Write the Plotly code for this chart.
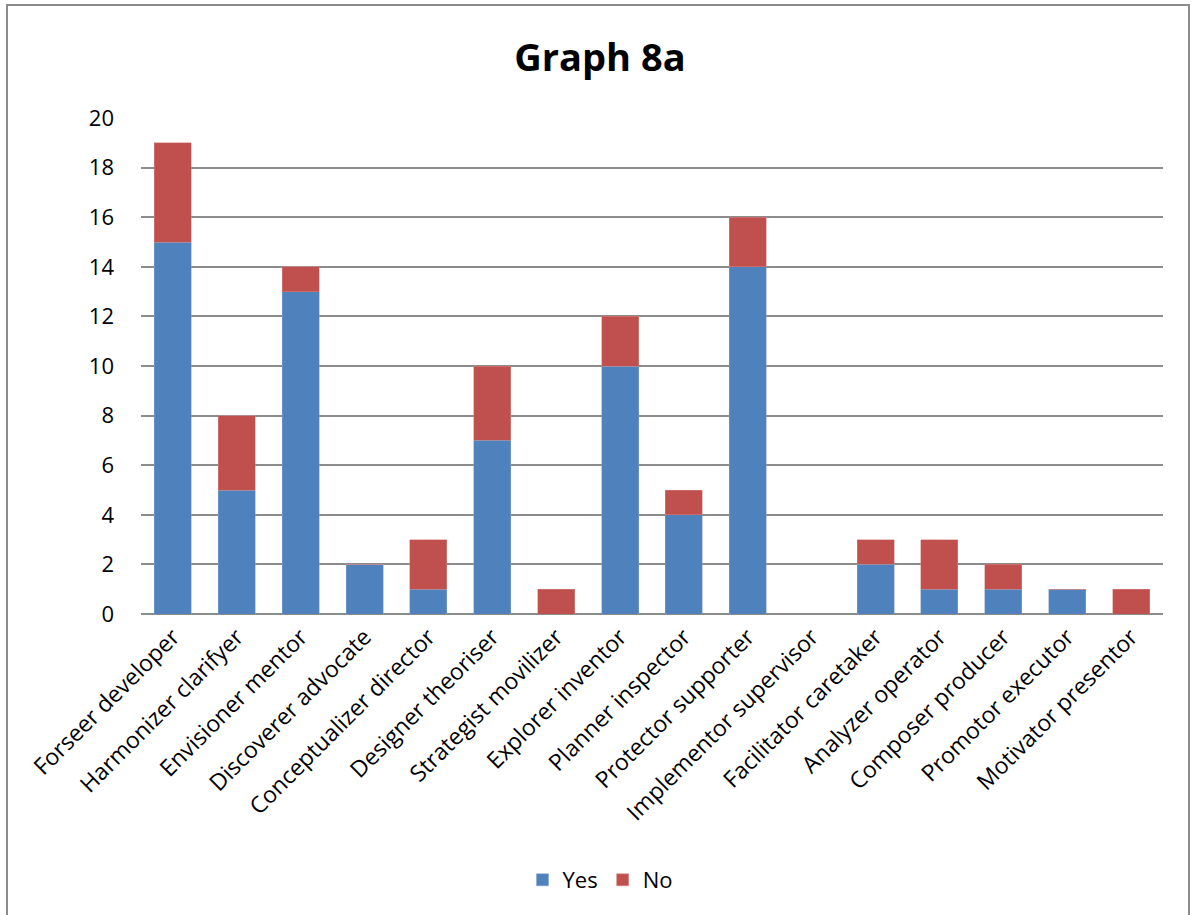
import plotly.graph_objects as go

categories = [
    "Forseer developer", "Harmonizer clarifyer", "Envisioner mentor",
    "Discoverer advocate", "Conceptualizer director", "Designer theoriser",
    "Strategist movilizer", "Explorer inventor", "Planner inspector",
    "Protector supporter", "Implementor supervisor", "Facilitator caretaker",
    "Analyzer operator", "Composer producer", "Promotor executor",
    "Motivator presentor",
]
yes_values = [15, 5, 13, 2, 1, 7, 0, 10, 4, 14, 0, 2, 1, 1, 1, 0]
no_values = [4, 3, 1, 0, 2, 3, 1, 2, 1, 2, 0, 1, 2, 1, 0, 1]
y_ticks = [0, 2, 4, 6, 8, 10, 12, 14, 16, 18, 20]

FONT = "Open Sans"
W, H = 1191, 915
L, R, T, B = 141, 28, 118, 301
pw, ph = W - L - R, H - T - B

fig = go.Figure()
fig.add_trace(go.Bar(name="Yes", x=categories, y=yes_values,
                     marker=dict(color="#4F81BD", line=dict(color="#7FA3D0", width=0.5))))
fig.add_trace(go.Bar(name="No", x=categories, y=no_values,
                     marker=dict(color="#C0504D", line=dict(color="#D88785", width=0.5))))

# outer chart frame
fig.add_shape(type="rect", xref="paper", yref="paper",
              x0=(7 - L) / pw, x1=(1189 - L) / pw,
              y0=-(B + 10) / ph,
              y1=(H - B - 5) / ph,
              line=dict(color="#8C8C8C", width=2), layer="below")

fig.update_layout(
    width=W, height=H,
    margin=dict(l=L, r=R, t=T, b=B),
    barmode="stack", bargap=0.42,
    plot_bgcolor="white", paper_bgcolor="white",
    font=dict(family=FONT, color="#000000", size=21),
    title=dict(text="<b>Graph 8a</b>", x=600 / W, xanchor="center", xref="container",
               y=1 - 58 / H, yanchor="middle",
               font=dict(size=38, family=FONT, color="#000000")),
    legend=dict(orientation="h", x=600 / W, xanchor="center", xref="container",
                y=1 - 880 / H, yref="container", yanchor="middle",
                font=dict(size=22, family=FONT), traceorder="normal"),
    showlegend=True,
)
fig.update_xaxes(tickangle=-45, tickfont=dict(size=23, family=FONT),
                 showgrid=False, showline=False, ticks="", ticklabelstandoff=4)
fig.update_yaxes(range=[0, 20], tickvals=y_ticks, showgrid=True,
                 gridcolor="#8C8C8C", gridwidth=1.5, zeroline=True,
                 zerolinecolor="#8C8C8C", zerolinewidth=1.5,
                 tickfont=dict(size=22, family=FONT), ticks="", ticklen=0,
                 ticklabelstandoff=26)

fig.write_html("out.html")
